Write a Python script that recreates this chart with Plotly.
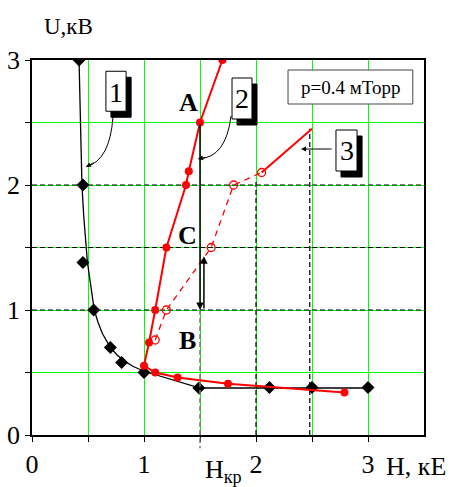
import plotly.graph_objects as go

# Curve 1: measured points (black diamonds) and the smooth fitted line
curve1_h = [0.42, 0.455, 0.455, 0.55, 0.70, 0.80, 1.00, 1.49, 2.12, 2.50, 3.00]
curve1_u = [3.00, 2.00, 1.38, 1.00, 0.70, 0.58, 0.50, 0.376, 0.38, 0.38, 0.38]
curve1_fit_h = [0.42, 0.433, 0.446, 0.462, 0.48, 0.495, 0.524, 0.556, 0.59, 0.63,
                0.70, 0.76, 0.82, 0.90, 1.00, 1.25, 1.50, 3.00]
curve1_fit_u = [3.00, 2.50, 2.00, 1.75, 1.50, 1.38, 1.20, 1.00, 0.90, 0.81,
                0.70, 0.64, 0.595, 0.55, 0.51, 0.44, 0.376, 0.376]

# Curve 2: red solid with filled circles
curve2_h = [2.79, 1.75, 1.30, 1.10, 1.00, 1.045, 1.10, 1.20, 1.375, 1.40, 1.50, 1.70]
curve2_u = [0.34, 0.41, 0.46, 0.50, 0.555, 0.74, 1.00, 1.50, 2.00, 2.11, 2.50, 3.00]

# Curve 3: red dashed with open circles, then a solid tail
curve3_h = [1.10, 1.20, 1.60, 1.80, 2.05]
curve3_u = [0.76, 1.00, 1.50, 2.00, 2.10]
curve3_tail_h = [2.05, 2.50]
curve3_tail_u = [2.10, 2.45]

# Tick labels (grid every 0.5, labels on whole numbers)
x_ticks = [0, 0.5, 1, 1.5, 2, 2.5, 3]
x_ticktext = ["0", "", "1", "", "2", "", "3"]
y_ticks = [0, 0.5, 1, 1.5, 2, 2.5, 3]
y_ticktext = ["0", "", "1", "", "2", "", "3"]

X_RANGE = [0, 3.5]
Y_RANGE = [0, 3]

# Points of the transition A -> B -> C
H_KR = 1.5
U_A, U_B, U_C = 2.5, 1.0, 1.43

SERIF = "Liberation Serif, Times New Roman, serif"
RED = "#ff0000"
GREEN = "#00ff00"

fig = go.Figure()

fig.add_trace(go.Scatter(x=curve1_fit_h, y=curve1_fit_u, mode="lines",
                         line=dict(color="black", width=1.3), hoverinfo="skip"))
fig.add_trace(go.Scatter(x=curve1_h, y=curve1_u, mode="markers",
                         marker=dict(symbol="diamond", size=10, color="black")))
fig.add_trace(go.Scatter(x=curve2_h, y=curve2_u, mode="lines+markers",
                         line=dict(color=RED, width=2),
                         marker=dict(symbol="circle", size=8, color=RED)))
fig.add_trace(go.Scatter(x=curve3_h, y=curve3_u, mode="lines+markers",
                         line=dict(color=RED, width=1.3, dash="6px,5px"),
                         marker=dict(symbol="circle-open", size=8, color=RED,
                                     line=dict(width=1.3))))
fig.add_trace(go.Scatter(x=curve3_tail_h, y=curve3_tail_u, mode="lines",
                         line=dict(color=RED, width=2)))

shapes = []
# dashed black overlays on some grid lines
for yv in [1.0, 1.5, 2.0]:
    shapes.append(dict(type="line", xref="x", yref="y", x0=X_RANGE[0], x1=X_RANGE[1],
                       y0=yv, y1=yv, layer="between",
                       line=dict(color="black", width=1.2, dash="5px,3px")))
for xv, top in [(2.0, 2.05), (2.48, 2.45)]:
    shapes.append(dict(type="line", xref="x", yref="y", x0=xv, x1=xv, y0=0, y1=top,
                       layer="between",
                       line=dict(color="black", width=1.2, dash="5px,3px")))
# gray dashed drop line at H_kr (extends under the axis)
xp = H_KR / X_RANGE[1]
shapes.append(dict(type="line", xref="paper", yref="paper", x0=xp, x1=xp,
                   y0=U_B / Y_RANGE[1], y1=-0.035,
                   line=dict(color="#777777", width=1.5, dash="5px,3px")))

# curved leader lines for labels 1 and 2
shapes.append(dict(type="path", xref="x", yref="y",
                   path="M 0.723,2.544 Q 0.696,2.2 0.487,2.147",
                   line=dict(color="black", width=1)))
shapes.append(dict(type="path", xref="x", yref="y",
                   path="M 1.777,2.552 Q 1.732,2.216 1.487,2.21",
                   line=dict(color="black", width=1)))

# labelled boxes with drop shadows
dx, dy = 0.045, 0.048
for (x0, x1, y0, y1) in [(0.66, 0.84, 2.59, 2.91),
                         (1.786, 1.964, 2.528, 2.856),
                         (2.714, 2.902, 2.112, 2.44)]:
    shapes.append(dict(type="rect", xref="x", yref="y", x0=x0 + dx, x1=x1 + dx,
                       y0=y0 - dy, y1=y1 - dy, fillcolor="black",
                       line=dict(color="black", width=1)))
    shapes.append(dict(type="rect", xref="x", yref="y", x0=x0, x1=x1, y0=y0, y1=y1,
                       fillcolor="white", line=dict(color="black", width=1)))
# pressure box
shapes.append(dict(type="rect", xref="x", yref="y", x0=2.286, x1=3.40, y0=2.648, y1=2.92,
                   fillcolor="white", line=dict(color="#444444", width=1)))

annotations = []
for txt, x, y in [("1", 0.75, 2.744), ("2", 1.875, 2.692), ("3", 2.808, 2.276)]:
    annotations.append(dict(text=txt, x=x, y=y, xref="x", yref="y", showarrow=False,
                            font=dict(family=SERIF, size=28, color="black")))
annotations.append(dict(text="p=0.4 мТорр", x=2.84, y=2.784, xref="x", yref="y",
                        showarrow=False, font=dict(family=SERIF, size=19, color="black")))
for txt, x, y in [("A", 1.40, 2.66), ("C", 1.39, 1.60), ("B", 1.39, 0.76)]:
    annotations.append(dict(text="<b>" + txt + "</b>", x=x, y=y, xref="x", yref="y",
                            showarrow=False, font=dict(family=SERIF, size=26, color="black")))

# arrow heads at the ends of the curved leaders
annotations.append(dict(x=0.482, y=2.144, xref="x", yref="y", ax=9, ay=-5,
                        showarrow=True, arrowhead=2, arrowsize=1, arrowwidth=1,
                        arrowcolor="black", text=""))
annotations.append(dict(x=1.482, y=2.208, xref="x", yref="y", ax=9, ay=-2,
                        showarrow=True, arrowhead=2, arrowsize=1, arrowwidth=1,
                        arrowcolor="black", text=""))
# straight leader for label 3
annotations.append(dict(x=2.402, y=2.288, xref="x", yref="y", ax=2.688, ay=2.288,
                        axref="x", ayref="y", showarrow=True, arrowhead=2,
                        arrowsize=1, arrowwidth=1, arrowcolor="black", text=""))
# A -> B and B -> C arrows
annotations.append(dict(x=H_KR, y=U_B, xref="x", yref="y", ax=H_KR, ay=U_A,
                        axref="x", ayref="y", showarrow=True, arrowhead=2,
                        arrowsize=1, arrowwidth=1.5, arrowcolor="black", text=""))
annotations.append(dict(x=H_KR + 0.035, y=U_C, xref="x", yref="y", ax=H_KR + 0.035, ay=U_B,
                        axref="x", ayref="y", showarrow=True, arrowhead=2,
                        arrowsize=1, arrowwidth=1.5, arrowcolor="black", text=""))

# axis titles
annotations.append(dict(text="U,кВ", x=0.092, y=1.088, xref="paper", yref="paper",
                        xanchor="center", yanchor="middle", showarrow=False,
                        font=dict(family=SERIF, size=23, color="black")))
annotations.append(dict(text="H, кЕ", x=1.06, y=-0.085, xref="paper", yref="paper",
                        xanchor="right", yanchor="middle", showarrow=False,
                        font=dict(family=SERIF, size=26, color="black")))
annotations.append(dict(text="H<sub>кр</sub>", x=1.525, y=-0.095, xref="x", yref="paper",
                        xanchor="left", yanchor="middle", showarrow=False,
                        font=dict(family=SERIF, size=26, color="black")))

axis_common = dict(showgrid=True, gridcolor=GREEN, gridwidth=1, zeroline=False,
                   showline=True, linecolor="black", linewidth=1.5, mirror=True,
                   ticks="outside", ticklen=5, tickcolor="black", tickwidth=1,
                   tickfont=dict(family=SERIF, size=26, color="black"),
                   tickmode="array", automargin=False)

fig.update_layout(
    width=451, height=487,
    margin=dict(l=32, r=27, t=60, b=52),
    paper_bgcolor="white", plot_bgcolor="white",
    showlegend=False,
    xaxis=dict(range=X_RANGE, tickvals=x_ticks, ticktext=x_ticktext, **axis_common),
    yaxis=dict(range=Y_RANGE, tickvals=y_ticks, ticktext=y_ticktext, **axis_common),
    shapes=shapes,
    annotations=annotations,
)

fig.write_html("out.html")
